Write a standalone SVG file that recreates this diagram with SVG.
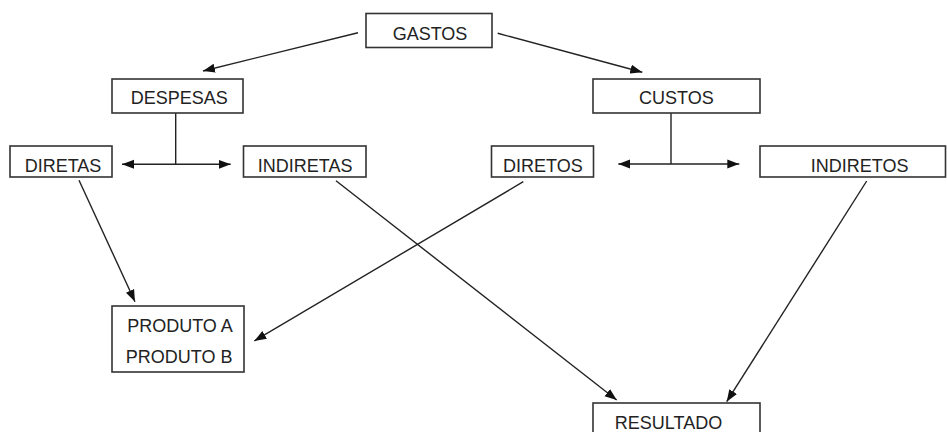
<svg xmlns="http://www.w3.org/2000/svg" width="947" height="432" viewBox="0 0 947 432">
<defs>
<style>
.box{fill:#fff;stroke:#333;stroke-width:1.6}
.lbl{font-family:"Liberation Sans",Arial,sans-serif;font-size:18px;fill:#222;text-anchor:middle}
.con{stroke:#222;stroke-width:1.4;fill:none}
</style>
<marker id="ah" viewBox="0 0 12 10" refX="12" refY="5" markerWidth="12" markerHeight="10" markerUnits="userSpaceOnUse" orient="auto-start-reverse">
<path d="M0,0.5 L12,5 L0,9.5 z" fill="#111"/>
</marker>
</defs>
<rect width="947" height="432" fill="#fff"/>
<g id="connectors">
<line class="con" x1="358" y1="32.7" x2="203" y2="71" marker-end="url(#ah)"/>
<line class="con" x1="497.7" y1="33.3" x2="642.3" y2="72.3" marker-end="url(#ah)"/>
<line class="con" x1="175.7" y1="112.7" x2="175.7" y2="164.3"/>
<line class="con" x1="122" y1="164.3" x2="230.7" y2="164.3" marker-start="url(#ah)" marker-end="url(#ah)"/>
<line class="con" x1="671" y1="112.7" x2="671" y2="164"/>
<line class="con" x1="618.3" y1="164" x2="739.3" y2="164" marker-start="url(#ah)" marker-end="url(#ah)"/>
<line class="con" x1="79" y1="180.3" x2="135" y2="301.7" marker-end="url(#ah)"/>
<line class="con" x1="336" y1="180.7" x2="616.7" y2="400" marker-end="url(#ah)"/>
<line class="con" x1="523.3" y1="181.7" x2="254.3" y2="341" marker-end="url(#ah)"/>
<line class="con" x1="866.7" y1="181" x2="726.7" y2="401.7" marker-end="url(#ah)"/>
</g>
<g id="gastos"><rect class="box" x="366" y="13.5" width="126" height="34"/><text class="lbl" x="430" y="40">GASTOS</text></g>
<g id="despesas"><rect class="box" x="112" y="79" width="131" height="34"/><text class="lbl" x="179.2" y="104.3">DESPESAS</text></g>
<g id="custos"><rect class="box" x="593" y="79" width="167" height="34"/><text class="lbl" x="676.3" y="104.3">CUSTOS</text></g>
<g id="diretas"><rect class="box" x="10" y="146" width="102" height="31"/><text class="lbl" x="63" y="171.7">DIRETAS</text></g>
<g id="indiretas"><rect class="box" x="243.5" y="146" width="122.5" height="31"/><text class="lbl" x="305.2" y="171.7">INDIRETAS</text></g>
<g id="diretos"><rect class="box" x="491.5" y="146" width="102" height="31"/><text class="lbl" x="542.8" y="171.7">DIRETOS</text></g>
<g id="indiretos"><rect class="box" x="760" y="146" width="185.5" height="31"/><text class="lbl" x="859.7" y="171.7">INDIRETOS</text></g>
<g id="produtos"><rect class="box" x="112" y="306" width="132" height="66"/><text class="lbl" x="180" y="331.7">PRODUTO A</text><text class="lbl" x="179.2" y="363.3">PRODUTO B</text></g>
<g id="resultado"><rect class="box" x="593" y="403" width="167" height="40"/><text class="lbl" x="668.5" y="428.5">RESULTADO</text></g>
</svg>
